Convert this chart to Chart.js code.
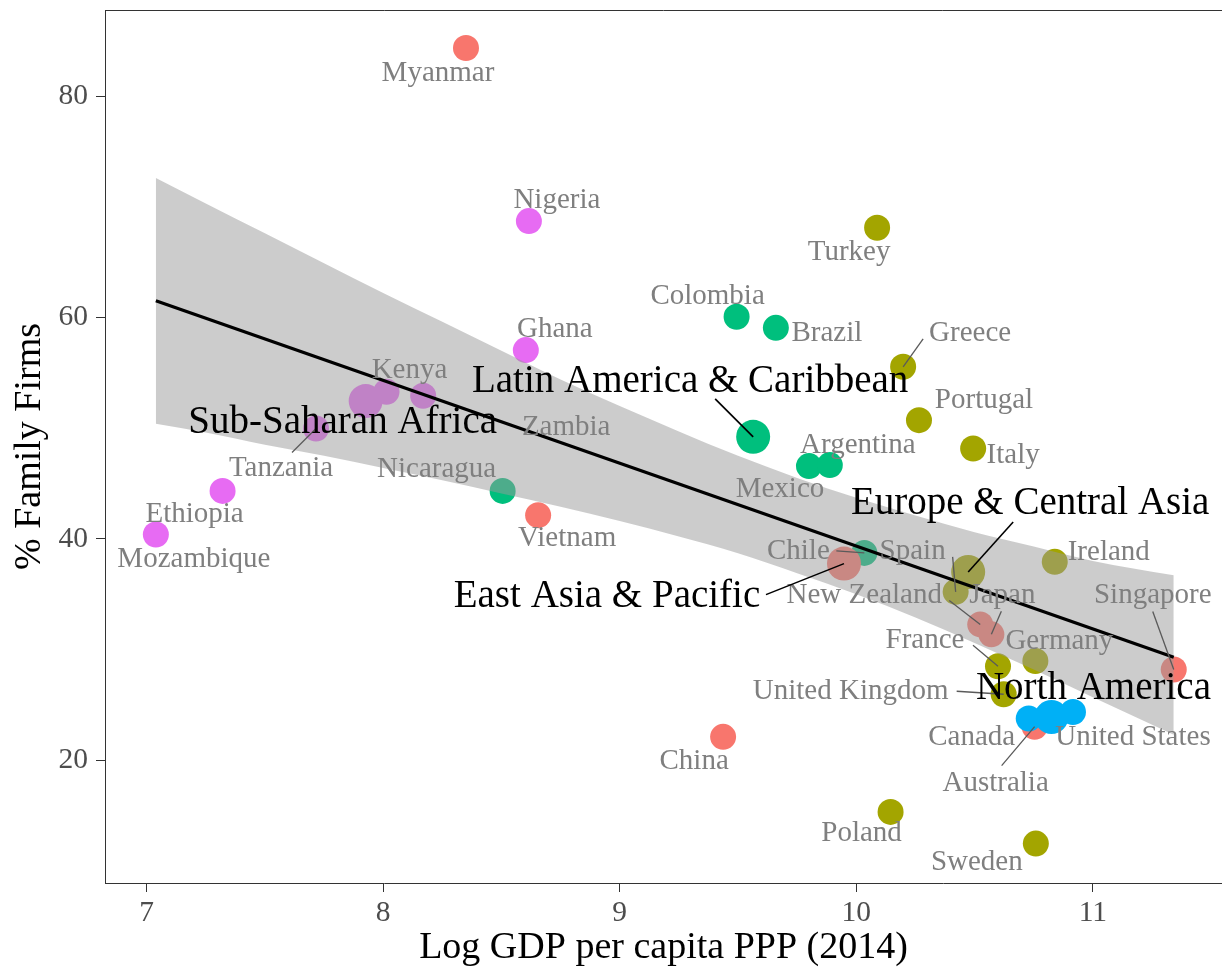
<!DOCTYPE html>
<html lang="en">
<head>
<meta charset="UTF-8">
<title>Family Firms and GDP per capita</title>
<script src="https://cdn.jsdelivr.net/npm/chart.js"></script>
<style>
    body {
        margin: 0;
        background: #fff;
    }

    #wrap {
        width: 1222px;
        height: 971px;
    }
</style>
</head>
<body>
<div id="wrap"><canvas id="scatter" width="1222" height="971"></canvas></div>

<script>
// country level values
const countries = ['Myanmar', 'Nigeria', 'Turkey', 'Colombia', 'Brazil', 'Ghana', 'Greece', 'Kenya', 'Zambia',
    'Tanzania', 'Portugal', 'Italy', 'Mexico', 'Argentina', 'Ethiopia', 'Nicaragua', 'Vietnam', 'Mozambique',
    'Chile', 'Ireland', 'Spain', 'New Zealand', 'Japan', 'Singapore', 'France', 'Germany', 'United Kingdom',
    'Australia', 'Canada', 'United States', 'China', 'Poland', 'Sweden'];
const countryRegion = ['EAP', 'SSA', 'ECA', 'LAC', 'LAC', 'SSA', 'ECA', 'SSA', 'SSA',
    'SSA', 'ECA', 'ECA', 'LAC', 'LAC', 'SSA', 'LAC', 'EAP', 'SSA',
    'LAC', 'ECA', 'ECA', 'EAP', 'EAP', 'EAP', 'ECA', 'ECA', 'ECA',
    'EAP', 'NA', 'NA', 'EAP', 'ECA', 'ECA'];
const logGdp = [8.350, 8.616, 10.088, 9.494, 9.660, 8.603, 10.198, 8.014, 8.169,
    7.716, 10.265, 10.494, 9.800, 9.888, 7.321, 8.505, 8.655, 7.039,
    10.034, 10.839, 10.420, 10.524, 10.571, 11.342, 10.599, 10.757, 10.623,
    10.754, 10.729, 10.916, 9.437, 10.145, 10.759];
const familyPct = [84.34, 68.70, 68.10, 60.06, 59.06, 57.05, 55.54, 53.28, 52.92,
    49.97, 50.72, 48.16, 46.57, 46.66, 44.33, 44.33, 42.14, 40.39,
    38.73, 37.92, 35.21, 32.27, 31.37, 28.20, 28.49, 28.96, 25.96,
    23.03, 23.77, 24.36, 22.11, 15.33, 12.47];

// region averages
const regionCodes = ['EAP', 'ECA', 'LAC', 'NA', 'SSA'];
const regionNames = ['East Asia & Pacific', 'Europe & Central Asia', 'Latin America & Caribbean',
    'North America', 'Sub-Saharan Africa'];
const regionGdp = [9.948, 10.473, 9.564, 10.825, 7.926];
const regionPct = [37.76, 37.01, 49.21, 23.91, 52.44];

// linear fit and its confidence band
const fitX = [7.039, 11.342];
const fitY = [61.50, 29.30];
const bandX = [7.039, 7.25, 7.5, 7.75, 8, 8.25, 8.5, 8.75, 9, 9.25, 9.5, 9.75, 10, 10.25, 10.5, 10.75, 11, 11.342];
const bandUpper = [72.6, 70.3, 67.6, 64.9, 62.2, 59.6, 57.0, 54.4, 52.0, 49.7, 47.5, 45.5, 43.7, 42.1, 40.6, 39.3, 38.0, 36.7];
const bandLower = [50.4, 49.6, 48.5, 47.5, 46.4, 45.3, 44.1, 42.9, 41.6, 40.2, 38.7, 36.9, 35.0, 32.9, 30.6, 28.2, 25.7, 22.3];

const xTicks = [7, 8, 9, 10, 11];
const yTicks = [20, 40, 60, 80];

const palette = { EAP: '#F8766D', ECA: '#A3A500', LAC: '#00BF7D', NA: '#00B0F6', SSA: '#E76BF3' };
const serif = "'Liberation Serif', 'Times New Roman', serif";

// where each name sits relative to its dot: [dx, dy (baseline), segment start dx, dy]
const labelSpots = {
    'Myanmar': [-28, 33], 'Nigeria': [28, -13], 'Turkey': [-28, 32], 'Colombia': [-29, -13],
    'Brazil': [51, 13], 'Ghana': [29, -13], 'Greece': [67, -26, 20, -28], 'Kenya': [23, -14],
    'Zambia': [143, 39], 'Tanzania': [-35, 48, -24, 24], 'Portugal': [65, -12], 'Italy': [40, 15],
    'Mexico': [-29, 31], 'Argentina': [28, -12], 'Ethiopia': [-28, 31], 'Nicaragua': [-66, -14],
    'Vietnam': [29, 31], 'Mozambique': [38, 32], 'Chile': [-66, 6, -28, -2], 'Ireland': [54, -2],
    'Spain': [-43, -33, -3, -35], 'New Zealand': [-116, -21, -31, -24], 'Japan': [11, -31, 10, -23],
    'Singapore': [-21, -66, -21, -58], 'France': [-73, -18, -25, -21], 'Germany': [24, -12],
    'United Kingdom': [-153, 5, -47, -3], 'Australia': [-39, 64, -33, 39], 'Canada': [-57, 27],
    'United States': [60, 33], 'China': [-29, 32], 'Poland': [-29, 29], 'Sweden': [-59, 26]
};
const regionSpots = {
    'EAP': [-237, 43, -78, 31], 'ECA': [62, -58, 45, -50], 'LAC': [-63, -45, -38, -38],
    'NA': [42, -18], 'SSA': [-23, 32]
};

const countryPoints = countries.map((c, i) => ({ x: logGdp[i], y: familyPct[i] }));
const regionPoints = regionCodes.map((r, i) => ({ x: regionGdp[i], y: regionPct[i] }));
const zip = (xs, ys) => xs.map((v, i) => ({ x: v, y: ys[i] }));

// names, segments and the top edge of the panel
const textLayer = {
    id: 'textLayer',
    afterDatasetsDraw(chart) {
        const { ctx, chartArea, scales } = chart;
        ctx.save();

        ctx.strokeStyle = '#333';
        ctx.lineWidth = 1;
        ctx.beginPath();
        ctx.moveTo(chartArea.left, chartArea.top + 0.5);
        ctx.lineTo(chartArea.right, chartArea.top + 0.5);
        ctx.stroke();

        const put = (text, gx, gy, spot, font, color, lineColor, lineWidth) => {
            const px = scales.x.getPixelForValue(gx);
            const py = scales.y.getPixelForValue(gy);
            if (spot.length > 2) {
                ctx.strokeStyle = lineColor;
                ctx.lineWidth = lineWidth;
                ctx.beginPath();
                ctx.moveTo(px + spot[2], py + spot[3]);
                ctx.lineTo(px, py);
                ctx.stroke();
            }
            ctx.font = font;
            ctx.fillStyle = color;
            ctx.textAlign = 'center';
            ctx.textBaseline = 'alphabetic';
            ctx.fillText(text, px + spot[0], py + spot[1]);
        };

        countries.forEach((c, i) => {
            put(c, logGdp[i], familyPct[i], labelSpots[c], '29px ' + serif, '#7f7f7f', '#5a5a5a', 1.3);
        });
        regionCodes.forEach((r, i) => {
            put(regionNames[i], regionGdp[i], regionPct[i], regionSpots[r], '39px ' + serif, '#000', '#000', 1.6);
        });

        ctx.restore();
    }
};

// keep the panel edge-to-edge: no extra room for half tick labels
const noEdgePadding = s => {
    s.paddingTop = 0;
    s.paddingBottom = 0;
    s.paddingLeft = 0;
    s.paddingRight = 0;
};

const chart = new Chart(document.getElementById('scatter'), {
    type: 'scatter',
    data: {
        datasets: [
            {
                // fitted line
                data: zip(fitX, fitY),
                showLine: true,
                borderColor: '#000',
                borderWidth: 3.3,
                pointRadius: 0,
                order: 0
            },
            {
                data: zip(bandX, bandUpper),
                showLine: true,
                cubicInterpolationMode: 'monotone',
                borderWidth: 0,
                pointRadius: 0,
                fill: '+1',
                backgroundColor: 'rgba(153, 153, 153, 0.5)',
                order: 1
            },
            {
                data: zip(bandX, bandLower),
                showLine: true,
                cubicInterpolationMode: 'monotone',
                borderWidth: 0,
                pointRadius: 0,
                order: 1
            },
            {
                // regional averages
                data: regionPoints,
                pointRadius: 17,
                borderWidth: 0,
                backgroundColor: regionCodes.map(r => palette[r]),
                order: 2
            },
            {
                data: countryPoints,
                pointRadius: 13,
                borderWidth: 0,
                backgroundColor: countryRegion.map(r => palette[r]),
                order: 3
            }
        ]
    },
    options: {
        responsive: false,
        animation: false,
        devicePixelRatio: 1,
        events: [],
        layout: { autoPadding: false, padding: { top: 10, right: 0, bottom: 0, left: 0 } },
        plugins: {
            legend: { display: false },
            tooltip: { enabled: false }
        },
        scales: {
            x: {
                type: 'linear',
                min: 6.824,
                max: 11.546,
                afterBuildTicks: s => { s.ticks = xTicks.map(v => ({ value: v })); },
                afterFit: s => { s.height = 88; noEdgePadding(s); },
                grid: { drawOnChartArea: false, drawTicks: true, tickLength: 9, color: '#333' },
                border: { display: true, color: '#333', width: 1 },
                ticks: { color: '#4d4d4d', font: { family: serif, size: 29.5 }, padding: 4 },
                title: {
                    display: true,
                    text: 'Log GDP per capita PPP (2014)',
                    color: '#000',
                    font: { family: serif, size: 38 },
                    padding: { top: 0, bottom: 0 }
                }
            },
            y: {
                type: 'linear',
                min: 8.91,
                max: 87.77,
                afterBuildTicks: s => { s.ticks = yTicks.map(v => ({ value: v })); },
                afterFit: s => { s.width = 105; noEdgePadding(s); },
                grid: { drawOnChartArea: false, drawTicks: true, tickLength: 9, color: '#333' },
                border: { display: true, color: '#333', width: 1 },
                ticks: { color: '#4d4d4d', font: { family: serif, size: 29.5 }, padding: 8 },
                title: {
                    display: true,
                    text: '% Family Firms',
                    color: '#000',
                    font: { family: serif, size: 38 },
                    padding: { top: 7, bottom: 0 }
                }
            }
        }
    },
    plugins: [textLayer]
});
</script>
</body>
</html>
